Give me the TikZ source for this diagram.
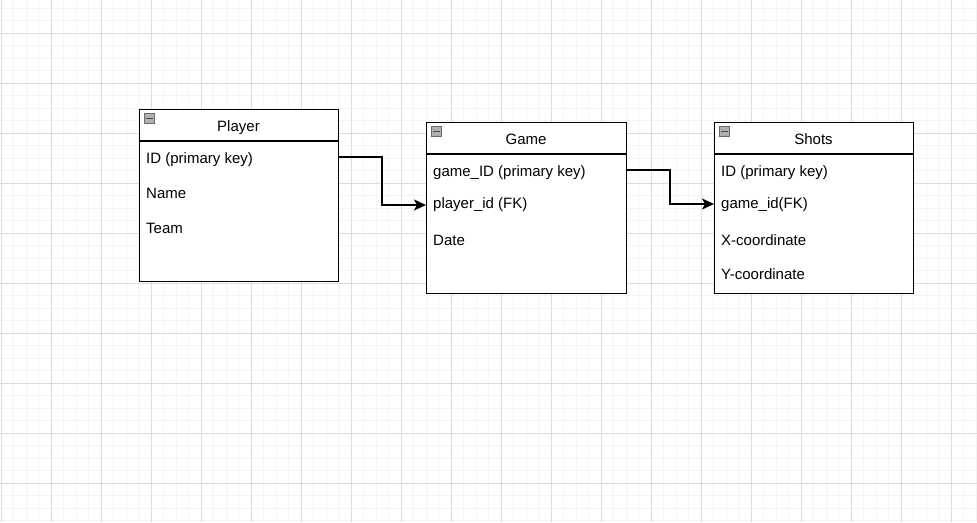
\documentclass[tikz,border=0pt]{standalone}
\usepackage{fontspec}
\setmainfont{Liberation Sans}
\usetikzlibrary{arrows.meta}
\definecolor{minorgrid}{HTML}{F4F4F4}
\definecolor{majorgrid}{HTML}{DCDCDC}
\definecolor{icongray}{HTML}{B0B0B0}
\definecolor{icondark}{HTML}{4A4A4A}
\tikzset{
  tablebox/.style={draw=black, line width=1.4pt, fill=white, minimum width=200pt, minimum height=172pt, inner sep=0pt, anchor=north west},
  headline/.style={draw=black, line width=1.4pt},
  title/.style={font=\fontsize{15pt}{17pt}\selectfont, inner sep=0pt, anchor=center},
  attr/.style={font=\fontsize{15pt}{17pt}\selectfont, inner sep=0pt, anchor=west},
  link/.style={draw=black, line width=1.5pt, -{Stealth[length=12pt,width=11pt,inset=3pt]}},
  icon/.style={draw=icongray!60!black, fill=icongray, line width=0.8pt}
}
\begin{document}
\begin{tikzpicture}[x=1pt,y=-1pt]
\useasboundingbox (0,0) rectangle (977,522);
\fill[white] (0,0) rectangle (977,522);
% minor grid
\foreach \i in {0,...,78} {
  \draw[minorgrid, line width=1pt] ({1+12.5*\i},0) -- ({1+12.5*\i},522);
}
\foreach \j in {-2,...,39} {
  \draw[minorgrid, line width=1pt] (0,{33+12.5*\j}) -- (977,{33+12.5*\j});
}
% major grid
\foreach \i in {0,...,19} {
  \draw[majorgrid, line width=1pt] ({1+50*\i},0) -- ({1+50*\i},522);
}
\foreach \j in {0,...,9} {
  \draw[majorgrid, line width=1pt] (0,{33+50*\j}) -- (977,{33+50*\j});
}

% Player table
\node[tablebox, minimum width=199pt, minimum height=172pt] (player) at (139,109) {};
\draw[headline] (139,141) -- (338,141);
\node[title] (ptitle) at (238.5,127.5) {Player};
\filldraw[icon] (144.5,113.5) rectangle (154,123.5);
\draw[icondark, line width=1.6pt] (146,118.5) -- (152.5,118.5);
\node[attr] (pid) at (146,160) {ID (primary key)};
\node[attr] (pname) at (146,193) {Name};
\node[attr] (pteam) at (146,228) {Team};

% Game table
\node[tablebox, minimum width=200pt, minimum height=171pt] (game) at (426,122) {};
\draw[headline] (426,154) -- (626,154);
\node[title] (gtitle) at (526,139.5) {Game};
\filldraw[icon] (431.5,126.5) rectangle (441,136.5);
\draw[icondark, line width=1.6pt] (433,131.5) -- (439.5,131.5);
\node[attr] (gid) at (433,173) {game\_ID (primary key)};
\node[attr] (gpid) at (433,205) {player\_id (FK)};
\node[attr] (gdate) at (433,240) {Date};

% Shots table
\node[tablebox, minimum width=199pt, minimum height=171pt] (shots) at (714,122) {};
\draw[headline] (714,154) -- (913,154);
\node[title] (stitle) at (813.5,139.5) {Shots};
\filldraw[icon] (719.5,126.5) rectangle (729,136.5);
\draw[icondark, line width=1.6pt] (721,131.5) -- (727.5,131.5);
\node[attr] (sid) at (721,173) {ID (primary key)};
\node[attr] (sgid) at (721,205) {game\_id(FK)};
\node[attr] (sx) at (721,240) {X-coordinate};
\node[attr] (sy) at (721,274) {Y-coordinate};

% connectors
\coordinate (b1) at (382,157);
\coordinate (b2) at (670,170);
\draw[link] (player.east |- b1) -- (b1) |- (game.west |- 0,205);
\draw[link] (game.east |- b2) -- (b2) |- (shots.west |- 0,204);
\end{tikzpicture}
\end{document}
